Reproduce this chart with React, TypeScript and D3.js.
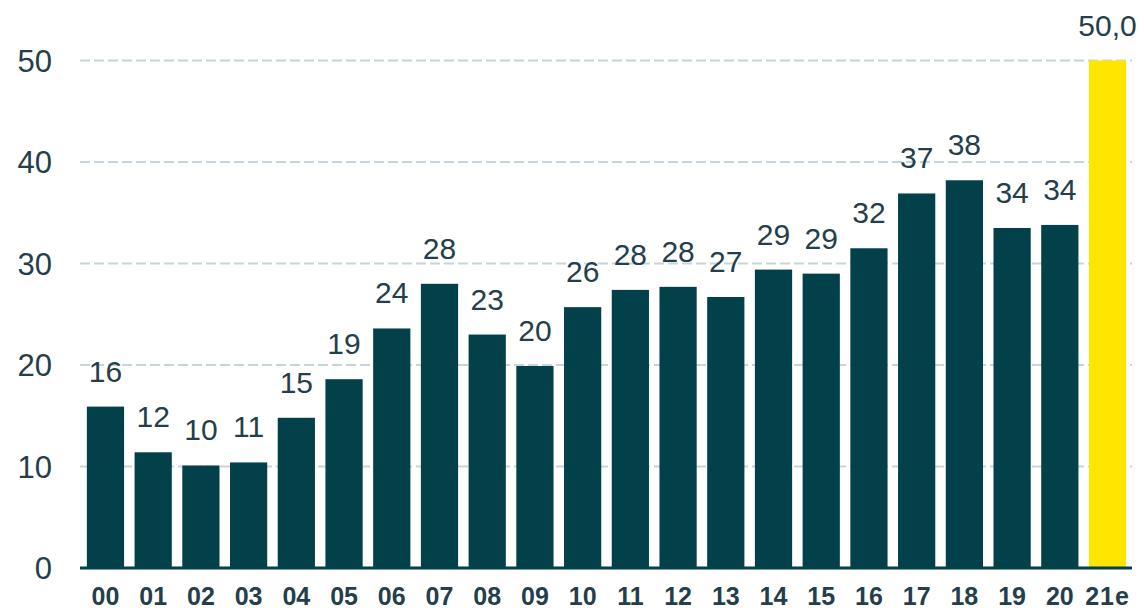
import React, { useEffect, useRef } from "react";
import * as d3 from "d3";

const years = ["00", "01", "02", "03", "04", "05", "06", "07", "08", "09", "10",
  "11", "12", "13", "14", "15", "16", "17", "18", "19", "20", "21e"];
const values = [15.9, 11.4, 10.1, 10.4, 14.8, 18.6, 23.6, 28.0, 23.0, 19.9, 25.7,
  27.4, 27.7, 26.7, 29.4, 29.0, 31.5, 36.9, 38.2, 33.5, 33.8, 50.0];
const valueLabels = ["16", "12", "10", "11", "15", "19", "24", "28", "23", "20", "26",
  "28", "28", "27", "29", "29", "32", "37", "38", "34", "34", "50,0"];
const yTicks = [0, 10, 20, 30, 40, 50];

export default function App() {
  const svgRef = useRef<SVGSVGElement>(null);

  useEffect(() => {
    const width = 1144;
    const height = 613;
    const font = "'Liberation Sans', Arial, sans-serif";
    const textColor = "#243f4b";

    const svg = d3.select(svgRef.current)
      .html("")
      .attr("width", width)
      .attr("height", height)
      .style("font-family", font);

    const data = years.map((y, i) => ({ year: y, value: values[i], label: valueLabels[i] }));

    const x = d3.scaleBand()
      .domain(years)
      .range([81.6, 1131.4])
      .paddingInner(0.22)
      .paddingOuter(0.11);

    const y = d3.scaleLinear()
      .domain([0, 50])
      .range([568, 60.5]);

    // gridlines
    svg.append("g")
      .selectAll("line")
      .data(yTicks.filter(t => t > 0))
      .join("line")
      .attr("x1", 80)
      .attr("x2", 1132)
      .attr("y1", d => y(d))
      .attr("y2", d => y(d))
      .attr("stroke", "#c6d5da")
      .attr("stroke-width", 2)
      .attr("stroke-dasharray", "10,4");

    // y labels
    svg.append("g")
      .selectAll("text")
      .data(yTicks)
      .join("text")
      .attr("x", 52)
      .attr("y", d => y(d))
      .attr("dy", "0.36em")
      .attr("text-anchor", "end")
      .style("font-size", "31px")
      .attr("fill", textColor)
      .text(d => d);

    // bars
    svg.append("g")
      .selectAll("rect")
      .data(data)
      .join("rect")
      .attr("x", d => x(d.year)!)
      .attr("width", x.bandwidth())
      .attr("y", d => y(d.value))
      .attr("height", d => y(0) - y(d.value))
      .attr("fill", d => d.year === "21e" ? "#ffe600" : "#02404a");

    // baseline
    svg.append("line")
      .attr("x1", 80)
      .attr("x2", 1132)
      .attr("y1", y(0))
      .attr("y2", y(0))
      .attr("stroke", "#02404a")
      .attr("stroke-width", 3);

    // value labels
    svg.append("g")
      .selectAll("text")
      .data(data)
      .join("text")
      .attr("x", d => x(d.year)! + x.bandwidth() / 2)
      .attr("y", d => y(d.value) - 25)
      .attr("text-anchor", "middle")
      .style("font-size", "30px")
      .attr("fill", textColor)
      .text(d => d.label);

    // x labels
    svg.append("g")
      .selectAll("text")
      .data(data)
      .join("text")
      .attr("x", d => x(d.year)! + x.bandwidth() / 2)
      .attr("y", 605)
      .attr("text-anchor", "middle")
      .style("font-size", "25px")
      .style("font-weight", "bold")
      .style("letter-spacing", d => d.year === "21e" ? "1px" : "0px")
      .attr("fill", textColor)
      .text(d => d.year);
  }, []);

  return <svg ref={svgRef} style={{ position: "absolute", left: 0, top: 0 }}></svg>;
}
